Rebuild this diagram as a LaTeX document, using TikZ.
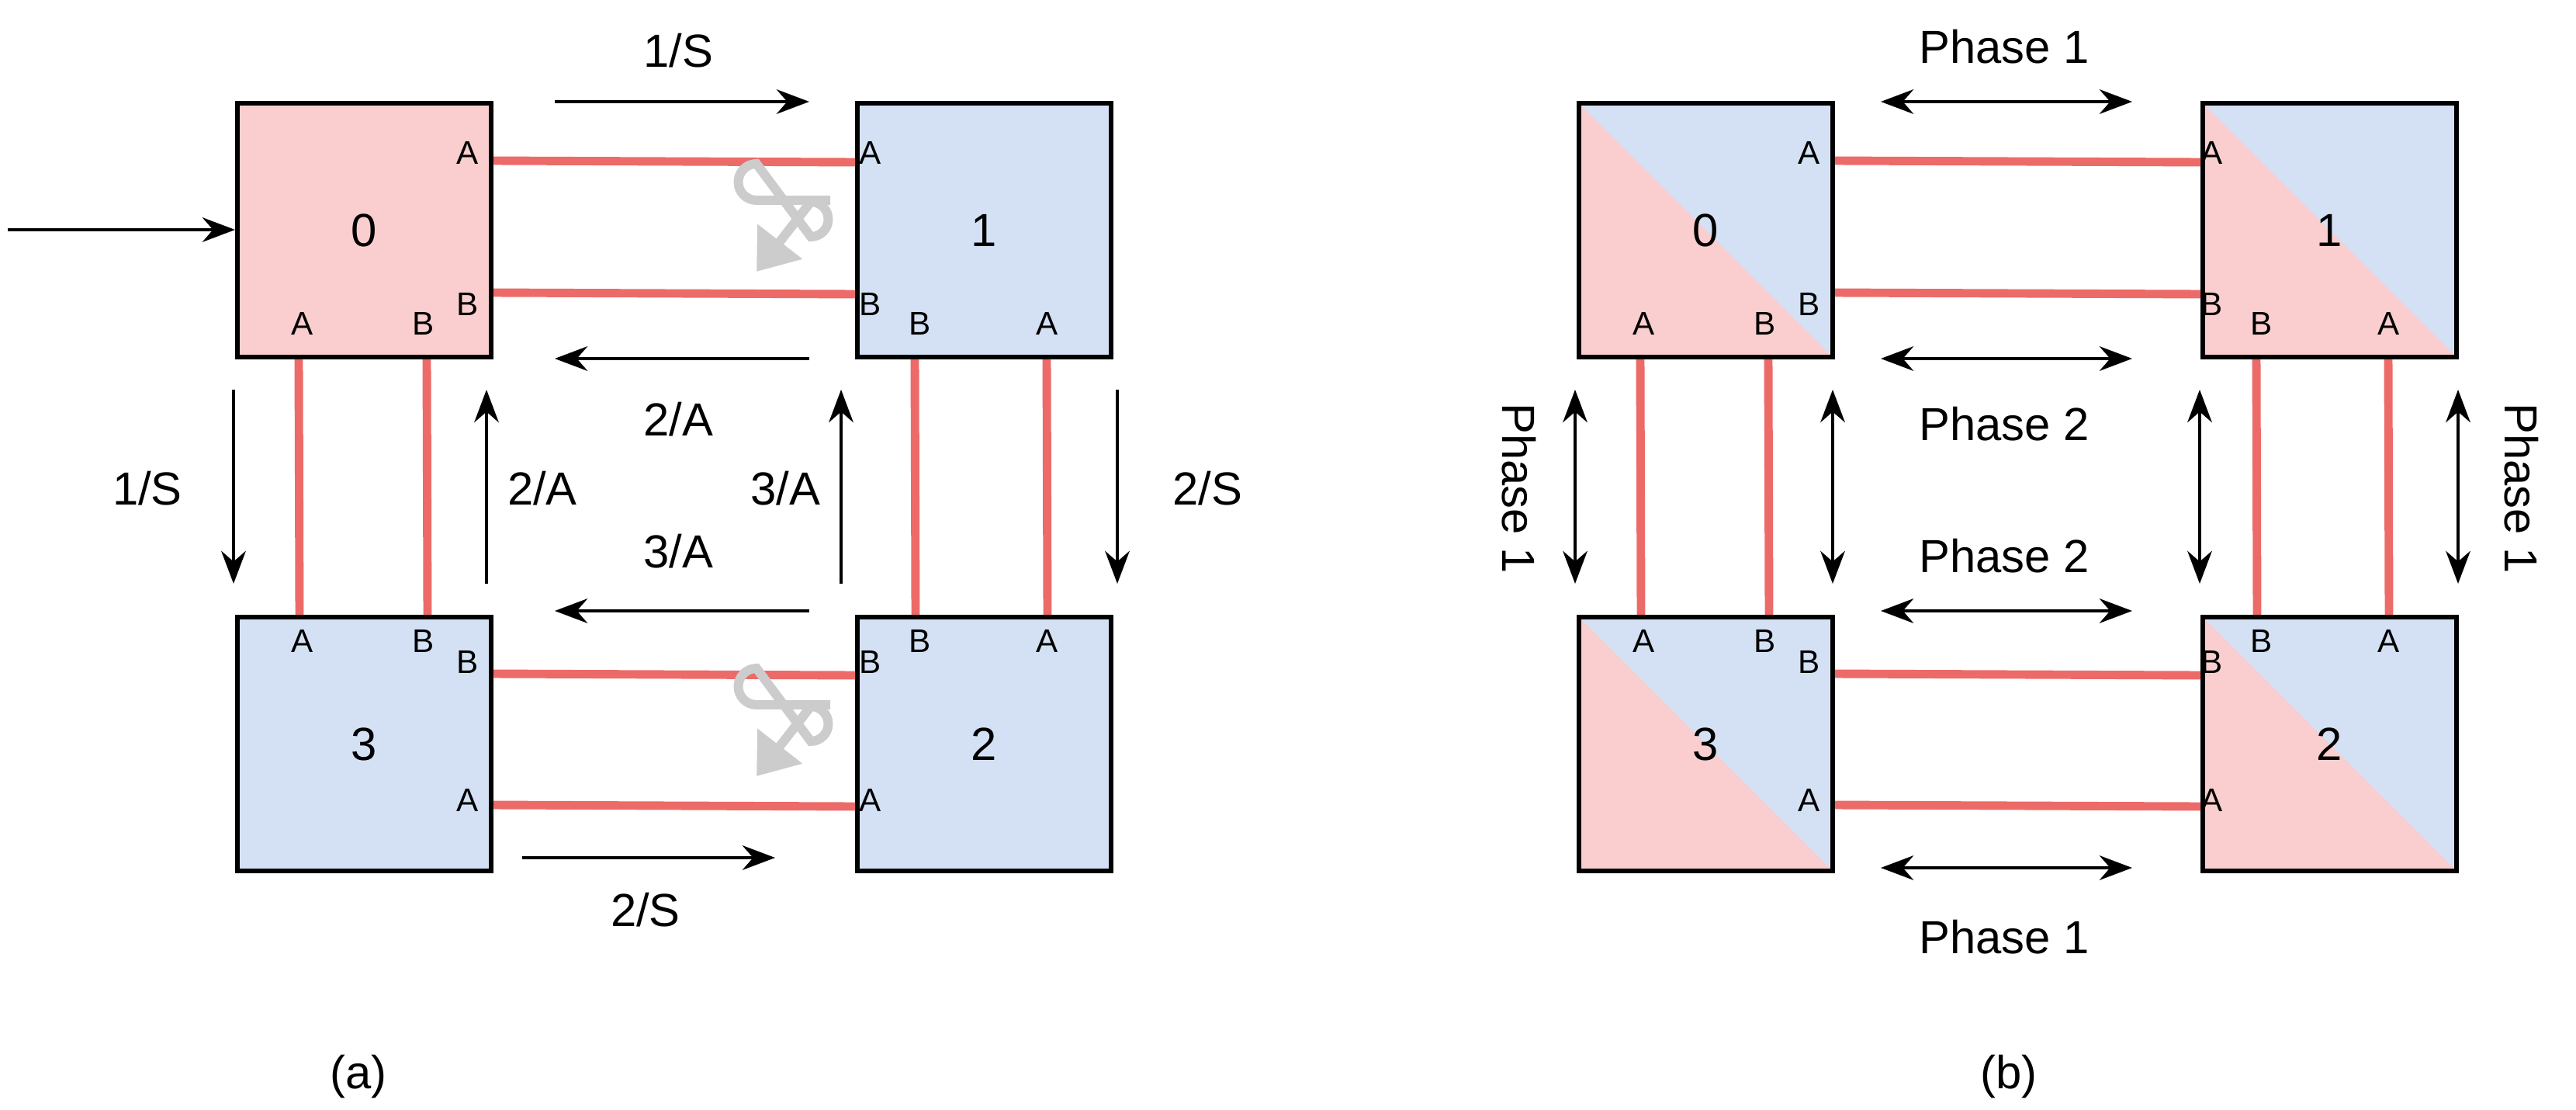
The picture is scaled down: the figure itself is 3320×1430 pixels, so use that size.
\documentclass[tikz,border=0pt]{standalone}
\usepackage{fontspec}
\setmainfont{Liberation Sans}
\usetikzlibrary{arrows.meta}
\definecolor{pk}{HTML}{FACECE}
\definecolor{bl}{HTML}{D4E1F4}
\definecolor{rd}{HTML}{EC6B68}
\definecolor{gr}{HTML}{CCCCCC}
\begin{document}
\begin{tikzpicture}[x=0.01cm,y=-0.01cm,
  box/.style={draw=black,line width=1.7pt,minimum size=0.01cm*333-1.7pt,inner sep=0pt,anchor=north west,font=\fontsize{17}{20}\selectfont},
  lnk/.style={draw=rd,line width=3.1pt},
  arr/.style={line width=1.1pt,-{Stealth[length=12pt,width=9pt]}},
  darr/.style={line width=1.1pt,{Stealth[length=12pt,width=9pt]}-{Stealth[length=12pt,width=9pt]}},
  pl/.style={font=\fontsize{12}{14}\selectfont,inner sep=0pt},
  lab/.style={font=\fontsize{17}{20}\selectfont,inner sep=1pt},
  uturn/.style={draw=gr,line width=3.4pt,-{Triangle[length=14pt,width=20pt]}}]
\useasboundingbox (0,0) rectangle (3320,1430);
% ---------- panel a ----------
\node[box,fill=pk] (a0) at (303,130) {0};
\node[box,fill=bl] (a1) at (1102,130) {1};
\node[box,fill=bl] (a3) at (303,792) {3};
\node[box,fill=bl] (a2) at (1102,792) {2};
% ---------- panel b ----------
\foreach \n/\x/\y/\t in {b0/2032/130/0,b1/2836/130/1,b3/2032/792/3,b2/2836/792/2}{
  \fill[pk] (\x,\y) rectangle (\x+333,\y+333);
  \fill[bl] (\x,\y) -- (\x+333,\y) -- (\x+333,\y+333) -- cycle;
  \node[box] (\n) at (\x,\y) {\t};
}
% port labels and links for both panels
\foreach \p/\d in {a/0,b/1729}{
  \node[pl] at (603+\d,197) {A}; \node[pl] at (603+\d,392) {B};
  \node[pl] at (390+\d,417) {A}; \node[pl] at (546+\d,417) {B};
  \node[pl] at (1122+\d,197) {A}; \node[pl] at (1122+\d,392) {B};
  \node[pl] at (1186+\d,417) {B}; \node[pl] at (1350+\d,417) {A};
  \node[pl] at (390+\d,826) {A}; \node[pl] at (546+\d,826) {B};
  \node[pl] at (603+\d,853) {B}; \node[pl] at (603+\d,1031) {A};
  \node[pl] at (1122+\d,853) {B}; \node[pl] at (1186+\d,826) {B};
  \node[pl] at (1350+\d,826) {A}; \node[pl] at (1122+\d,1031) {A};
}
\foreach \p in {a,b}{
  \draw[lnk] (\p0.east |- 0,207) -- (\p1.west |- 0,209);
  \draw[lnk] (\p0.east |- 0,377) -- (\p1.west |- 0,379);
  \draw[lnk] (\p3.east |- 0,868) -- (\p2.west |- 0,870);
  \draw[lnk] (\p3.east |- 0,1037) -- (\p2.west |- 0,1039);
}
\foreach \x in {385,550,1179,1349,2114,2279,2908,3078}{
  \draw[lnk] (\x,463) -- (\x+1,792);
}
% arrows panel a
\coordinate (in) at (10,296);
\draw[arr] (in) -- (a0.west |- in);
\draw[arr] (715,131) -- (1043,131); \node[lab] at (874,65) {1/S};
\draw[arr] (1043,462) -- (715,462); \node[lab] at (874,540) {2/A};
\draw[arr] (1043,787) -- (715,787); \node[lab] at (874,710) {3/A};
\draw[arr] (673,1105) -- (999,1105); \node[lab] at (832,1172) {2/S};
\draw[arr] (301,502) -- (301,752); \node[lab] at (190,629) {1/S};
\draw[arr] (627,752) -- (627,502); \node[lab] at (699,629) {2/A};
\draw[arr] (1084,752) -- (1084,502); \node[lab] at (1012,629) {3/A};
\draw[arr] (1440,502) -- (1440,752); \node[lab] at (1556,629) {2/S};
\foreach \yy in {0,650}{
  \draw[uturn] (1070,258+\yy) -- (975,258+\yy) arc[start angle=90,end angle=270,radius=23.5] -- (1045,305+\yy) arc[start angle=90,end angle=-90,radius=22.5] -- (975,350+\yy);
}
\node[lab] at (462,1387) {(a)};
\node[lab] at (2589,1387) {(b)};
% arrows panel b
\draw[darr] (2424,131) -- (2748,131); \node[lab] at (2583,60) {Phase 1};
\draw[darr] (2424,462) -- (2748,462); \node[lab] at (2583,546) {Phase 2};
\draw[darr] (2424,787) -- (2748,787); \node[lab] at (2583,716) {Phase 2};
\draw[darr] (2424,1118) -- (2748,1118); \node[lab] at (2583,1207) {Phase 1};
\foreach \x in {2030,2362,2835,3168}{ \draw[darr] (\x,502) -- (\x,752); }
\node[lab,rotate=-90] at (1958,629) {Phase 1};
\node[lab,rotate=-90] at (3250,629) {Phase 1};
\end{tikzpicture}
\end{document}
